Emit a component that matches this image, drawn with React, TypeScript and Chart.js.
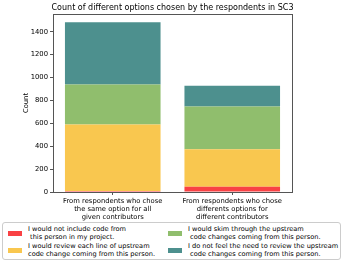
import React, { useEffect, useRef } from "react";
import { Chart, registerables } from "chart.js";

Chart.register(...registerables);

const categories: string[][] = [
  ["From respondents who chose", "the same option for all", "given contributors"],
  ["From respondents who chose", "differents options for", "different contributors"],
];
const notInclude = [8, 45];
const reviewEach = [582, 328];
const skim = [350, 375];
const noReview = [543, 180];
const yTicks = [0, 200, 400, 600, 800, 1000, 1200, 1400];

const seriesNames = [
  ["I would not include code from", " this person in my project."],
  ["I would review each line of upstream", "code change coming from this person."],
  ["I would skim through the upstream", " code changes coming from this person."],
  ["I do not feel the need to review the upstream", " code changes coming from this person."],
];
const colors = ["#f94144", "#f9c74f", "#90be6d", "#4d908e"];
const titleText = "Count of different options chosen by the respondents in SC3";
const FONT = "'DejaVu Sans', sans-serif";

export default function App() {
  const ref = useRef<HTMLCanvasElement>(null);
  useEffect(() => {
    document.body.style.margin = "0";
    const framePlugin = {
      id: "frame",
      afterDraw(chart: any) {
        const { ctx, chartArea: a } = chart;
        ctx.save();
        ctx.strokeStyle = "#555";
        ctx.lineWidth = 1;
        ctx.strokeRect(a.left + 0.5, a.top + 0.5, a.right - a.left, a.bottom - a.top);
        ctx.fillStyle = "#000";
        ctx.font = `8px ${FONT}`;
        ctx.textAlign = "center";
        ctx.textBaseline = "middle";
        ctx.fillText(titleText, (a.left + a.right) / 2, 8);
        ctx.font = `6.8px ${FONT}`;
        ctx.translate(26, (a.top + a.bottom) / 2);
        ctx.rotate(-Math.PI / 2);
        ctx.fillText("Count", 0, 0);
        ctx.restore();
      },
    };
    const chart = new Chart(ref.current!, {
      type: "bar",
      data: {
        labels: categories,
        datasets: [notInclude, reviewEach, skim, noReview].map((d, i) => ({
          label: seriesNames[i].join(""),
          data: d,
          backgroundColor: colors[i],
          borderWidth: 0,
          barPercentage: 0.8,
          categoryPercentage: 1,
        })),
      },
      options: {
        responsive: false,
        animation: false,
        layout: { padding: { left: 0, right: 54, top: 14, bottom: 0 } },
        plugins: { legend: { display: false }, tooltip: { enabled: false }, title: { display: false } },
        scales: {
          x: {
            stacked: true,
            offset: true,
            grid: { display: true, drawOnChartArea: false, drawTicks: true, tickLength: 3, offset: false, color: "#555" },
            border: { display: false },
            ticks: { color: "#000", font: { family: FONT, size: 6.8 }, padding: 2, maxRotation: 0, autoSkip: false },
            afterFit: (s: any) => { s.height = 30; },
          },
          y: {
            stacked: true,
            min: 0,
            max: 1555,
            afterBuildTicks: (s: any) => { s.ticks = yTicks.map((v) => ({ value: v })); },
            grid: { display: true, drawOnChartArea: false, drawTicks: true, tickLength: 3, color: "#555" },
            border: { display: false },
            ticks: { color: "#000", font: { family: FONT, size: 6.8 }, padding: 2, callback: (v: any) => String(v) },
            afterFit: (s: any) => { s.width = 53; },
          },
        },
      },
      plugins: [framePlugin],
    } as any);
    return () => chart.destroy();
  }, []);

  const entry = (i: number, left: number, top: number) => (
    <div key={i} style={{ position: "absolute", left, top, display: "flex", alignItems: "center" }}>
      <div style={{ width: 14, height: 5, background: colors[i], marginRight: 6 }} />
      <div style={{ whiteSpace: "pre", fontFamily: FONT, fontSize: 6.6, lineHeight: "8.2px", color: "#000" }}>
        {seriesNames[i].join("\n")}
      </div>
    </div>
  );

  return (
    <div style={{ position: "fixed", left: 0, top: 0, width: 346, height: 264, background: "#fff" }}>
      <canvas ref={ref} width={346} height={222} style={{ position: "absolute", left: 0, top: 0 }} />
      <div
        style={{
          position: "absolute",
          left: 2,
          top: 222,
          width: 339,
          height: 38,
          border: "1px solid #ccc",
          borderRadius: 3,
          boxSizing: "border-box",
        }}
      >
        {entry(0, 5, 2)}
        {entry(1, 5, 19)}
        {entry(2, 165, 2)}
        {entry(3, 165, 19)}
      </div>
    </div>
  );
}
